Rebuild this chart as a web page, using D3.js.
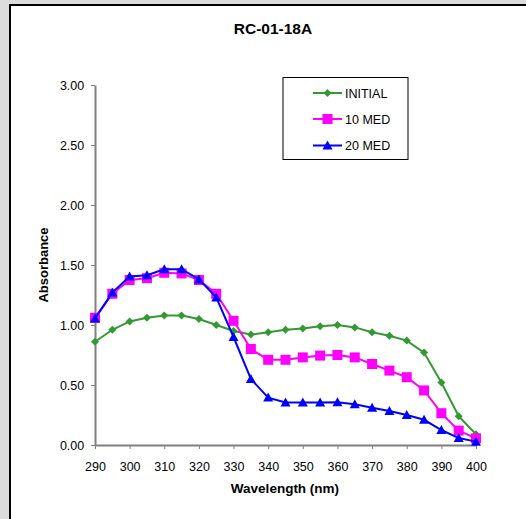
<!DOCTYPE html>
<html>
<head>
<meta charset="utf-8">
<script src="https://cdn.jsdelivr.net/npm/d3@7/dist/d3.min.js"></script>
<style>
html,body{margin:0;padding:0;background:#dcdcdc;}
svg{display:block;}
text{font-family:"Liberation Sans",Arial,sans-serif;}
</style>
</head>
<body>
<svg id="c" width="526" height="519"></svg>
<script>
const wavelengths = [290,295,300,305,310,315,320,325,330,335,340,345,350,355,360,365,370,375,380,385,390,395,400];
const initial = [0.86,0.96,1.03,1.06,1.08,1.08,1.05,1.00,0.95,0.92,0.94,0.96,0.97,0.99,1.00,0.98,0.94,0.91,0.87,0.77,0.52,0.24,0.09];
const med10 = [1.06,1.26,1.375,1.39,1.435,1.43,1.375,1.26,1.035,0.80,0.71,0.71,0.73,0.745,0.75,0.73,0.675,0.62,0.565,0.455,0.265,0.12,0.055];
const med20 = [1.055,1.27,1.405,1.415,1.465,1.465,1.38,1.23,0.90,0.55,0.395,0.355,0.355,0.355,0.357,0.34,0.31,0.283,0.25,0.21,0.125,0.058,0.028];
const xTicks = [290,300,310,320,330,340,350,360,370,380,390,400];
const yTicks = [0,0.5,1.0,1.5,2.0,2.5,3.0];
const seriesNames = ["INITIAL","10 MED","20 MED"];
const seriesColors = ["#339933","#ff00ff","#0000ff"];

const svg = d3.select("#c");
// chart area
svg.append("rect").attr("x",10).attr("y",5).attr("width",530).attr("height",530)
  .attr("fill","#fff").attr("stroke","#000").attr("stroke-width",2);

const x = d3.scaleLinear().domain([290,400]).range([95,476]);
const y = d3.scaleLinear().domain([0,3]).range([445,85]);

// axes
const xa = svg.append("g").attr("transform","translate(0,445)")
  .call(d3.axisBottom(x).tickValues(xTicks).tickSize(4).tickSizeOuter(0).tickFormat(d3.format("d")));
const ya = svg.append("g").attr("transform","translate(95,0)")
  .call(d3.axisLeft(y).tickValues(yTicks).tickSize(4).tickSizeOuter(0).tickFormat(d3.format(".2f")));
[xa,ya].forEach(a=>{
  a.select(".domain").attr("stroke","#808080").attr("stroke-width",2);
  a.selectAll(".tick line").attr("stroke","#808080").attr("stroke-width",1);
  a.selectAll(".tick text").attr("font-size",12.5).attr("fill","#000")
   .attr("font-family","'Liberation Sans',Arial,sans-serif");
});
xa.selectAll(".tick text").attr("dy","1.55em");
ya.selectAll(".tick text").attr("dx","-0.3em");

// titles
svg.append("text").attr("x",273).attr("y",34).attr("text-anchor","middle")
  .attr("font-size",15.5).attr("font-weight","bold").text("RC-01-18A");
svg.append("text").attr("x",285).attr("y",493).attr("text-anchor","middle")
  .attr("font-size",13.5).attr("font-weight","bold").text("Wavelength (nm)");
svg.append("text").attr("transform","translate(48,265) rotate(-90)").attr("text-anchor","middle")
  .attr("font-size",13).attr("font-weight","bold").text("Absorbance");

const data = [initial, med10, med20];
const line = d3.line().x((d,i)=>x(wavelengths[i])).y(d=>y(d));

function marker(g, k, cx, cy, color){
  if(k===0){
    g.append("path").attr("d",`M${cx},${cy-4}L${cx+4},${cy}L${cx},${cy+4}L${cx-4},${cy}Z`).attr("fill",color);
  } else if(k===1){
    g.append("rect").attr("x",cx-5).attr("y",cy-5).attr("width",10).attr("height",10).attr("fill",color);
  } else {
    g.append("path").attr("d",`M${cx},${cy-5}L${cx+5},${cy+4}L${cx-5},${cy+4}Z`).attr("fill",color);
  }
}

data.forEach((vals,k)=>{
  svg.append("path").datum(vals).attr("d",line).attr("fill","none")
    .attr("stroke",seriesColors[k]).attr("stroke-width",2);
  const g = svg.append("g");
  vals.forEach((v,i)=>marker(g,k,x(wavelengths[i]),y(v),seriesColors[k]));
});

// legend
const lg = svg.append("g");
lg.append("rect").attr("x",283).attr("y",77.5).attr("width",125).attr("height",82)
  .attr("fill","#fff").attr("stroke","#000").attr("stroke-width",1);
const ly = [93,119,145.5];
seriesNames.forEach((n,k)=>{
  lg.append("line").attr("x1",313).attr("x2",342).attr("y1",ly[k]).attr("y2",ly[k])
    .attr("stroke",seriesColors[k]).attr("stroke-width",2);
  marker(lg,k,327.5,ly[k],seriesColors[k]);
  lg.append("text").attr("x",345).attr("y",ly[k]+4.5).attr("font-size",12.5).text(n);
});
</script>
</body>
</html>
